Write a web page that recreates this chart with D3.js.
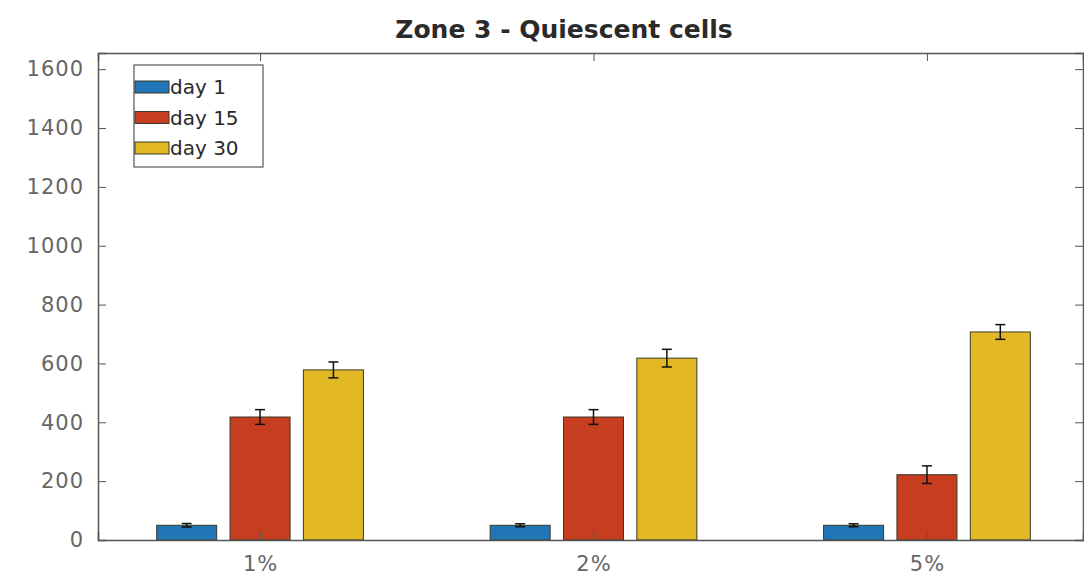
<!DOCTYPE html>
<html>
<head>
<meta charset="utf-8">
<script src="https://cdn.jsdelivr.net/npm/d3@7"></script>
<style>
  body { margin: 0; background: #fff; }
  text { font-family: "DejaVu Sans", "Liberation Sans", Arial, sans-serif; }
</style>
</head>
<body>
<div id="chart"></div>
<script>
(function () {
  'use strict';

  var categories = ['1%', '2%', '5%'],
      seriesNames = ['day 1', 'day 15', 'day 30'],
      day1 = [50, 50, 50],
      day15 = [418, 418, 222],
      day30 = [578, 618, 707],
      err1 = [6, 5, 5],
      err15 = [25, 25, 30],
      err30 = [27, 30, 25],
      yTicks = [0, 200, 400, 600, 800, 1000, 1200, 1400, 1600],
      colors = ['#2176b8', '#c63d20', '#e2b824'];

  var w = 1084,
      h = 575,
      left = 98, right = 1083, top = 53, bottom = 540;

  var series = [day1, day15, day30],
      errors = [err1, err15, err30];

  var svg = d3.select('#chart').append('svg')
    .attr('width', w)
    .attr('height', h);

  var x = d3.scaleLinear().domain([0.514, 3.468]).range([left, right]);
  var y = d3.scaleLinear().domain([0, 1655]).range([bottom, top]);

  var barW = 0.18, step = 0.22;

  // bars
  series.forEach(function (vals, s) {
    var g = svg.append('g');
    g.selectAll('rect')
      .data(vals)
      .enter()
      .append('rect')
      .attr('x', function (d, i) { return x(i + 1 + (s - 1) * step - barW / 2); })
      .attr('y', function (d) { return y(d); })
      .attr('width', x(1 + barW) - x(1))
      .attr('height', function (d) { return y(0) - y(d); })
      .attr('fill', colors[s])
      .attr('stroke', '#3a3a2a')
      .attr('stroke-width', 1);

    // error bars
    var eb = g.selectAll('g.err')
      .data(vals)
      .enter()
      .append('g')
      .attr('class', 'err')
      .attr('stroke', '#111')
      .attr('stroke-width', 1.5);
    var cx = function (d, i) { return x(i + 1 + (s - 1) * step); };
    eb.append('line')
      .attr('x1', cx).attr('x2', cx)
      .attr('y1', function (d, i) { return y(d - errors[s][i]); })
      .attr('y2', function (d, i) { return y(d + errors[s][i]); });
    eb.append('line')
      .attr('x1', function (d, i) { return cx(d, i) - 5; })
      .attr('x2', function (d, i) { return cx(d, i) + 5; })
      .attr('y1', function (d, i) { return y(d + errors[s][i]); })
      .attr('y2', function (d, i) { return y(d + errors[s][i]); });
    eb.append('line')
      .attr('x1', function (d, i) { return cx(d, i) - 5; })
      .attr('x2', function (d, i) { return cx(d, i) + 5; })
      .attr('y1', function (d, i) { return y(d - errors[s][i]); })
      .attr('y2', function (d, i) { return y(d - errors[s][i]); });
  });

  // axes
  var axisColor = '#555';
  var yAxis = svg.append('g')
    .attr('transform', 'translate(' + left + ',0)')
    .call(d3.axisLeft(y).tickValues(yTicks).tickSize(-8).tickPadding(14)
      .tickFormat(d3.format('d')));
  var yAxisR = svg.append('g')
    .attr('transform', 'translate(' + right + ',0)')
    .call(d3.axisRight(y).tickValues(yTicks).tickSize(-8).tickFormat(''));
  var xAxis = svg.append('g')
    .attr('transform', 'translate(0,' + bottom + ')')
    .call(d3.axisBottom(x).tickValues([1, 2, 3]).tickSize(-8).tickPadding(16)
      .tickFormat(function (d) { return categories[d - 1]; }));
  var xAxisT = svg.append('g')
    .attr('transform', 'translate(0,' + top + ')')
    .call(d3.axisTop(x).tickValues([1, 2, 3]).tickSize(-8).tickFormat(''));

  [yAxis, yAxisR, xAxis, xAxisT].forEach(function (a) {
    a.select('.domain').attr('stroke', axisColor).attr('stroke-width', 1.5);
    a.selectAll('.tick line').attr('stroke', axisColor);
    a.selectAll('.tick text')
      .attr('fill', '#666')
      .attr('font-size', 21)
      .attr('letter-spacing', 1)
      .attr('font-family', '"DejaVu Sans", sans-serif');
  });

  // title
  svg.append('text')
    .attr('x', 564)
    .attr('y', 38)
    .attr('text-anchor', 'middle')
    .attr('font-size', 25)
    .attr('font-weight', 'bold')
    .attr('fill', '#2a2a2a')
    .text('Zone 3 - Quiescent cells');

  // legend
  var lg = svg.append('g').attr('transform', 'translate(134,65)');
  lg.append('rect')
    .attr('width', 129).attr('height', 102)
    .attr('fill', '#fff')
    .attr('stroke', '#555')
    .attr('stroke-width', 1.2);
  seriesNames.forEach(function (name, s) {
    var yy = 22 + s * 30.5;
    lg.append('rect')
      .attr('x', 1).attr('y', yy - 6)
      .attr('width', 34).attr('height', 12)
      .attr('fill', colors[s])
      .attr('stroke', '#3a3a2a');
    lg.append('text')
      .attr('x', 36).attr('y', yy + 7)
      .attr('font-size', 20)
      .attr('fill', '#2a2a2a')
      .text(name);
  });
}());
</script>
</body>
</html>
